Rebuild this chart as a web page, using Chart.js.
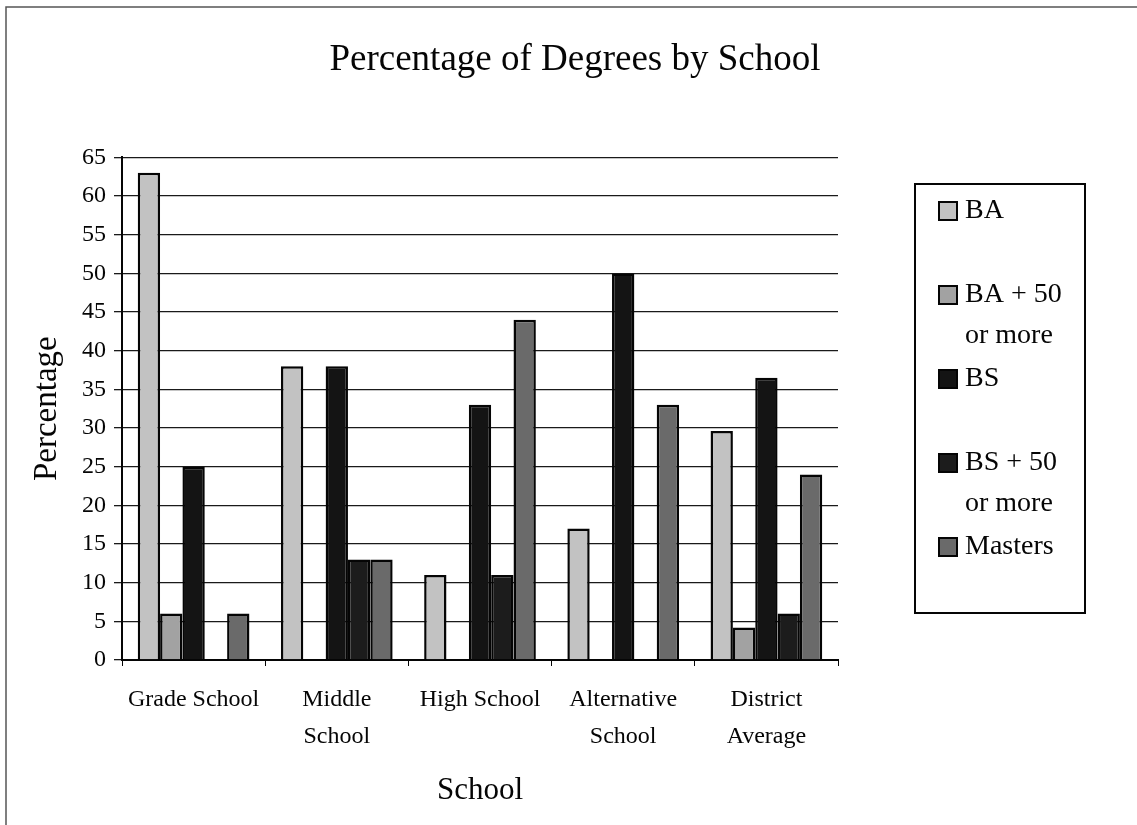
<!DOCTYPE html>
<html>
<head>
<meta charset="utf-8">
<script src="https://cdn.jsdelivr.net/npm/chart.js@4/dist/chart.umd.min.js"></script>
<style>
  html, body { margin: 0; padding: 0; background: #ffffff; }
  #wrap { width: 1137px; height: 825px; position: relative; }
  canvas { display: block; }
</style>
</head>
<body>
<div id="wrap"><canvas id="chart" width="1137" height="825"></canvas></div>
<script>
// Schools along the x axis (multi-line tick labels)
const schools = [
  ['Grade School'],
  ['Middle', 'School'],
  ['High School'],
  ['Alternative', 'School'],
  ['District', 'Average']
];

// Degree types, with their legend line breaks
const degreeLabels = [
  ['BA'],
  ['BA + 50', 'or more'],
  ['BS'],
  ['BS + 50', 'or more'],
  ['Masters']
];

// Percentage of staff holding each degree, per school
const baValues      = [63, 38, 11, 17, 29.6];
const ba50Values    = [6, 0, 0, 0, 4.2];
const bsValues      = [25, 38, 33, 50, 36.5];
const bs50Values    = [0, 13, 11, 0, 6];
const mastersValues = [6, 13, 44, 33, 24];

const yTicksMin = 0;
const yTicksMax = 65;
const yTicksStep = 5;

const seriesColors = ['#c2c2c2', '#a2a2a2', '#141414', '#1c1c1c', '#6a6a6a'];
const seriesValues = [baValues, ba50Values, bsValues, bs50Values, mastersValues];

const SERIF = '"Liberation Serif", "Times New Roman", Times, serif';
const INK = '#050505';
Chart.defaults.font.family = SERIF;
Chart.defaults.color = INK;

// White page with the thin frame on the top and left edges
const framePlugin = {
  id: 'frame',
  beforeDraw(chart) {
    const ctx = chart.ctx;
    ctx.save();
    ctx.fillStyle = '#ffffff';
    ctx.fillRect(0, 0, chart.width, chart.height);
    ctx.strokeStyle = '#555555';
    ctx.lineWidth = 1.5;
    ctx.beginPath();
    ctx.moveTo(6, chart.height);
    ctx.lineTo(6, 7);
    ctx.lineTo(chart.width, 7);
    ctx.stroke();
    ctx.restore();
  }
};

// Boxed legend on the right with wrapped entry text
const boxLegendPlugin = {
  id: 'boxLegend',
  afterDraw(chart) {
    const ctx = chart.ctx;
    const box = { x: 915, y: 184, w: 170, h: 429 };
    ctx.save();
    ctx.strokeStyle = INK;
    ctx.lineWidth = 2;
    ctx.strokeRect(box.x, box.y, box.w, box.h);

    const fontSize = 28;
    const lineGap = 41;
    const slot = 84;
    const firstY = 211;
    const sq = 20;
    const sqX = 938;
    const textX = 965;
    ctx.font = fontSize + 'px ' + SERIF;
    ctx.textAlign = 'left';
    ctx.textBaseline = 'middle';
    chart.data.datasets.forEach((ds, i) => {
      const cy = firstY + i * slot;
      ctx.fillStyle = ds.backgroundColor;
      ctx.fillRect(sqX, cy - sq / 2, sq, sq);
      ctx.strokeStyle = INK;
      ctx.lineWidth = 2;
      ctx.strokeRect(sqX + 1, cy - sq / 2 + 1, sq - 2, sq - 2);
      ctx.fillStyle = INK;
      ds.legendLines.forEach((line, k) => {
        ctx.fillText(line, textX, cy + k * lineGap);
      });
    });
    ctx.restore();
  }
};

const datasets = degreeLabels.map((lines, i) => ({
  label: lines.join(' '),
  legendLines: lines,
  data: seriesValues[i],
  backgroundColor: seriesColors[i],
  borderColor: INK,
  borderWidth: 2.5,
  categoryPercentage: 0.78,
  barPercentage: 1.0
}));

new Chart(document.getElementById('chart'), {
  type: 'bar',
  data: { labels: schools, datasets },
  options: {
    responsive: false,
    animation: false,
    layout: { padding: { left: 13, right: 0, top: 0, bottom: 0 } },
    plugins: {
      legend: { display: false },
      tooltip: { enabled: false },
      title: {
        display: true,
        text: 'Percentage of Degrees by School',
        color: INK,
        font: { size: 37, weight: 'normal', family: SERIF, lineHeight: 1.2 },
        padding: { top: 38, bottom: 75 }
      }
    },
    scales: {
      x: {
        grid: {
          display: true,
          drawOnChartArea: false,
          drawTicks: true,
          tickLength: 6,
          color: INK,
          offset: true
        },
        border: { display: true, color: INK, width: 2 },
        ticks: {
          color: INK,
          font: { size: 24, family: SERIF, lineHeight: 1.54 },
          padding: 15,
          maxRotation: 0,
          autoSkip: false
        },
        title: {
          display: true,
          text: 'School',
          color: INK,
          font: { size: 31, family: SERIF, lineHeight: 1.2 },
          padding: { top: 0, bottom: 16 }
        },
        afterFit(scale) { scale.height = 165; }
      },
      y: {
        min: yTicksMin,
        max: yTicksMax,
        ticks: {
          stepSize: yTicksStep,
          color: INK,
          font: { size: 24, family: SERIF },
          padding: 8
        },
        grid: {
          color: '#1a1a1a',
          lineWidth: 1.3,
          tickLength: 8
        },
        border: { display: true, color: INK, width: 2 },
        title: {
          display: true,
          text: 'Percentage',
          color: INK,
          font: { size: 33, family: SERIF, lineHeight: 1.2 },
          padding: { top: 15, bottom: 0 }
        },
        afterFit(scale) { scale.width = 109; }
      },
      legendSpace: {
        type: 'linear',
        position: 'right',
        display: true,
        grid: { display: false, drawTicks: false },
        border: { display: false },
        ticks: { display: false },
        afterFit(scale) { scale.width = 299; }
      }
    }
  },
  plugins: [framePlugin, boxLegendPlugin]
});
</script>
</body>
</html>
